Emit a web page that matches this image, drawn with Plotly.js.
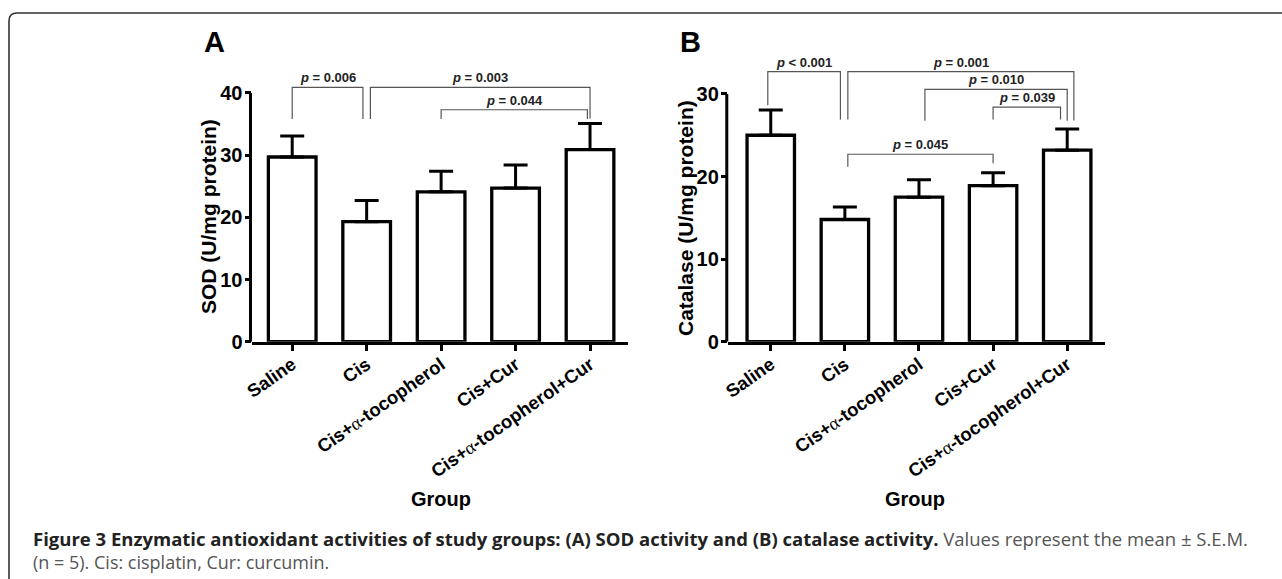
<!DOCTYPE html>
<html>
<head>
<meta charset="utf-8">
<script src="https://cdn.plot.ly/plotly-3.0.1.min.js"></script>
<style>html,body{margin:0;padding:0;background:#fff;}#chart{width:1282px;height:579px;}</style>
</head>
<body>
<div id="chart"></div>
<script>
// ---- data ----
const groups = ['Saline', 'Cis', 'Cis+α-tocopherol', 'Cis+Cur', 'Cis+α-tocopherol+Cur'];
const sodMean = [29.7, 19.3, 24.1, 24.7, 30.9];
const sodSem  = [3.4, 3.4, 3.3, 3.7, 4.2];
const catMean = [25.0, 14.8, 17.5, 18.9, 23.2];
const catSem  = [3.05, 1.5, 2.1, 1.55, 2.55];
// significance comparisons: [group index from, group index to, label]
const sodComparisons = [[0, 1, 'p = 0.006'], [1, 4, 'p = 0.003'], [2, 4, 'p = 0.044']];
const catComparisons = [[0, 1, 'p < 0.001'], [1, 4, 'p = 0.001'], [2, 4, 'p = 0.010'], [3, 4, 'p = 0.039'], [1, 3, 'p = 0.045']];

// ---- bracket geometry (positions only) ----
// [left x offset, right x offset, top level, left leg bottom, right leg bottom]
const sodBracketGeom = [[0, -0.05, 40.9, 35.8, 35.8], [0.05, 0, 40.9, 35.8, 35.9], [0, -0.035, 37.3, 35.8, 35.8]];
const catBracketGeom = [[-0.04, -0.06, 32.7, 28.65, 26.9], [0.04, 0.09, 32.7, 26.9, 26.8], [0.08, 0, 30.55, 26.75, 26.75], [0, -0.09, 28.4, 26.9, 26.9], [0.04, 0, 22.7, 21.2, 21.6]];

const W = 1282, H = 579;
const FONT = 'Liberation Sans, Arial, sans-serif';
const px = p => p / W;
const py = p => 1 - p / H;
const xIdx = groups.map((g, i) => i);
const tickText = groups.map(g => g.replace('α', '<span style="font-family:Liberation Serif;font-weight:normal">α</span>'));

function barTrace(means, sems, xa, ya) {
  return {
    type: 'bar', x: xIdx, y: means, xaxis: xa, yaxis: ya, width: 0.64,
    marker: {color: '#ffffff', line: {color: '#000000', width: 3.3}},
    error_y: {type: 'data', array: sems, arrayminus: sems.map(() => 0), symmetric: false,
              color: '#000000', thickness: 3, width: 12},
    hoverinfo: 'x+y', showlegend: false
  };
}

const traces = [barTrace(sodMean, sodSem, 'x', 'y'), barTrace(catMean, catSem, 'x2', 'y2')];
const annotations = [];

function addBrackets(comps, geom, xa, ya) {
  comps.forEach((c, k) => {
    const g = geom[k];
    const x1 = c[0] + g[0], x2 = c[1] + g[1];
    traces.push({
      type: 'scatter', mode: 'lines', xaxis: xa, yaxis: ya,
      x: [x1, x1, x2, x2], y: [g[3], g[2], g[2], g[4]],
      line: {color: '#555555', width: 1.2}, hoverinfo: 'skip', showlegend: false
    });
    annotations.push({
      xref: xa, yref: ya, x: (x1 + x2) / 2, y: g[2], yanchor: 'bottom', xanchor: 'center',
      text: c[2].replace(/^p/, '<i>p</i>'), showarrow: false,
      font: {family: FONT, size: 13, weight: 'bold', color: '#222222'}
    });
  });
}
addBrackets(sodComparisons, sodBracketGeom, 'x', 'y');
addBrackets(catComparisons, catBracketGeom, 'x2', 'y2');

function txt(x, y, text, size, extra) {
  return Object.assign({xref: 'paper', yref: 'paper', x: px(x), y: py(y), text: text, showarrow: false,
    xanchor: 'center', yanchor: 'middle',
    font: {family: FONT, size: size, weight: 'bold', color: '#000000'}}, extra || {});
}
annotations.push(txt(214, 42, 'A', 29));
annotations.push(txt(690, 42, 'B', 29));
annotations.push(txt(208, 217, 'SOD (U/mg protein)', 21, {textangle: -90}));
annotations.push(txt(686, 218, 'Catalase (U/mg protein)', 21, {textangle: -90}));
annotations.push(txt(441, 499, 'Group', 20));
annotations.push(txt(915, 499, 'Group', 20));
annotations.push({xref: 'paper', yref: 'paper', x: px(31), y: py(538), xanchor: 'left', yanchor: 'middle', showarrow: false,
  text: '<b>Figure 3 Enzymatic antioxidant activities of study groups: (A) SOD activity and (B) catalase activity.</b> <span style="color:#555555">Values represent the mean ± S.E.M.</span>',
  font: {family: 'Open Sans, sans-serif', size: 18.5, color: '#222222'}});
annotations.push({xref: 'paper', yref: 'paper', x: px(31), y: py(562), xanchor: 'left', yanchor: 'middle', showarrow: false,
  text: '(n = 5). Cis: cisplatin, Cur: curcumin.',
  font: {family: 'Open Sans, sans-serif', size: 18, color: '#555555'}});

const xaxisBase = {
  tickmode: 'array', tickvals: xIdx, ticktext: tickText, tickangle: -35,
  ticks: 'outside', ticklen: 6, tickwidth: 3, tickcolor: '#000000', ticklabelstandoff: -4,
  showline: true, linewidth: 3, linecolor: '#000000', showgrid: false, zeroline: false,
  tickfont: {family: FONT, size: 18.5, weight: 'bold', color: '#000000'}, fixedrange: true
};
const yaxisBase = {
  tickmode: 'linear', tick0: 0, dtick: 10, ticks: 'outside', ticklen: 6.5, tickwidth: 3, tickcolor: '#000000',
  ticklabelstandoff: -2,
  showline: false, showgrid: false, zeroline: false,
  tickfont: {family: FONT, size: 20, weight: 'bold', color: '#000000'}, fixedrange: true
};

const layout = {
  width: W, height: H, margin: {l: 0, r: 0, t: 0, b: 0},
  paper_bgcolor: '#ffffff', plot_bgcolor: 'rgba(0,0,0,0)', showlegend: false,
  xaxis: Object.assign({}, xaxisBase, {domain: [px(252), px(628)], range: [-0.54, 4.51], anchor: 'y'}),
  yaxis: Object.assign({}, yaxisBase, {domain: [py(341.7), py(68.1)], range: [0, 44], anchor: 'x'}),
  xaxis2: Object.assign({}, xaxisBase, {domain: [px(728.3), px(1105)], range: [-0.573, 4.51], anchor: 'y2'}),
  yaxis2: Object.assign({}, yaxisBase, {domain: [py(341.7), py(52.7)], range: [0, 35], anchor: 'x2'}),
  shapes: [
    {type: 'line', xref: 'x domain', yref: 'y', x0: -0.004, x1: -0.004, y0: 0, y1: 40, line: {color: '#000000', width: 3}},
    {type: 'line', xref: 'x2 domain', yref: 'y2', x0: -0.004, x1: -0.004, y0: 0, y1: 30, line: {color: '#000000', width: 3}},
    {type: 'path', xref: 'paper', yref: 'paper',
     path: 'M ' + px(9) + ',0 L ' + px(9) + ',' + py(21) + ' Q ' + px(9) + ',' + py(13) + ' ' + px(17) + ',' + py(13) + ' L 1,' + py(13),
     line: {color: '#333333', width: 1.6}}
  ],
  annotations: annotations
};

Plotly.newPlot('chart', traces, layout, {displayModeBar: false, staticPlot: true});
</script>
</body>
</html>
